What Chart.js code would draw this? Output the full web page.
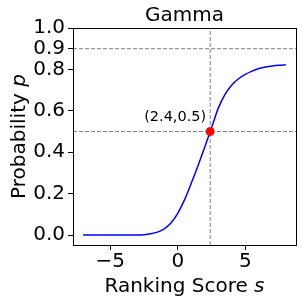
<!DOCTYPE html>
<html>
<head>
<meta charset="utf-8">
<script src="https://cdn.jsdelivr.net/npm/chart.js@4/dist/chart.umd.min.js"></script>
<style>
  html, body { margin: 0; padding: 0; background: #fff; }
</style>
</head>
<body>
<canvas id="gamma" width="303" height="305"></canvas>
<script>
// curve
const scores = [-7, -6, -5, -4, -3, -2.5, -2, -1.5, -1, -0.5, 0, 0.5, 1, 1.5, 2, 2.4, 2.7, 3, 3.5, 4, 4.5, 5, 5.5, 6, 6.5, 7, 7.5, 8];
const probs = [0, 0, 0, 0, 0.0005, 0.002, 0.006, 0.014, 0.03, 0.058, 0.105, 0.17, 0.25, 0.335, 0.425, 0.5, 0.557, 0.613, 0.68, 0.725, 0.755, 0.776, 0.792, 0.804, 0.812, 0.817, 0.82, 0.822];

const yTicks = [0, 0.2, 0.4, 0.6, 0.8, 0.9, 1.0];
const xTicks = [-5, 0, 5];
const xLimits = [-7.75, 8.75];
const yLimits = [-0.048, 1.0];

const refScore = 2.4;
const refProb = 0.5;
const refLevel = 0.9;

const FONT = 'DejaVu Sans';

const curve = scores.map((s, i) => ({ x: s, y: probs[i] }));

// draw "Probability " + italic "p" style labels centred on a point
function mixedText(ctx, plain, ital, size) {
  ctx.font = size + 'px "' + FONT + '"';
  const wa = ctx.measureText(plain).width;
  ctx.font = 'italic ' + size + 'px "' + FONT + '"';
  const wb = ctx.measureText(ital).width;
  const x0 = -(wa + wb) / 2;
  ctx.textAlign = 'left';
  ctx.font = size + 'px "' + FONT + '"';
  ctx.fillText(plain, x0, 0);
  ctx.font = 'italic ' + size + 'px "' + FONT + '"';
  ctx.fillText(ital, x0 + wa, 0);
}

// frame, title, axis titles and the point label
const extras = {
  id: 'extras',
  afterDraw(chart) {
    const ctx = chart.ctx;
    const a = chart.chartArea;
    const xs = chart.scales.x, ys = chart.scales.y;
    const cx = (a.left + a.right) / 2;
    ctx.save();
    ctx.strokeStyle = '#000';
    ctx.lineWidth = 1;
    ctx.strokeRect(Math.round(a.left) + 0.5, Math.round(a.top) + 0.5,
      Math.round(a.right - a.left), Math.round(a.bottom - a.top));

    ctx.fillStyle = '#000';
    ctx.textBaseline = 'middle';

    ctx.font = '20px "' + FONT + '"';
    ctx.textAlign = 'center';
    ctx.fillText('Gamma', cx, 16);

    ctx.translate(cx, 287);
    mixedText(ctx, 'Ranking Score ', 's', 20);
    ctx.setTransform(1, 0, 0, 1, 0, 0);

    ctx.translate(20, (a.top + a.bottom) / 2);
    ctx.rotate(-Math.PI / 2);
    mixedText(ctx, 'Probability ', 'p', 20);
    ctx.setTransform(1, 0, 0, 1, 0, 0);

    ctx.font = '14.5px "' + FONT + '"';
    ctx.textAlign = 'center';
    ctx.fillText('(' + refScore + ',' + refProb + ')',
      xs.getPixelForValue(refScore) - 35, ys.getPixelForValue(refProb) - 14);
    ctx.restore();
  }
};

const dashed = {
  showLine: true,
  borderColor: '#808080',
  borderWidth: 1,
  borderDash: [4, 2],
  pointRadius: 0,
  order: 3
};

new Chart(document.getElementById('gamma'), {
  type: 'scatter',
  data: {
    datasets: [
      {
        data: curve,
        showLine: true,
        borderColor: '#0000ff',
        borderWidth: 1.5,
        pointRadius: 0,
        cubicInterpolationMode: 'monotone',
        order: 2
      },
      Object.assign({ data: [{ x: xLimits[0], y: refLevel }, { x: xLimits[1], y: refLevel }] }, dashed),
      Object.assign({ data: [{ x: xLimits[0], y: refProb }, { x: xLimits[1], y: refProb }] }, dashed),
      Object.assign({ data: [{ x: refScore, y: yLimits[0] }, { x: refScore, y: yLimits[1] }] }, dashed),
      {
        data: [{ x: refScore, y: refProb }],
        pointRadius: 4,
        pointBackgroundColor: '#ff0000',
        pointBorderColor: '#ff0000',
        order: 0
      }
    ]
  },
  options: {
    responsive: false,
    animation: false,
    layout: { padding: { left: 0, right: 7, top: 28, bottom: 0 } },
    plugins: {
      legend: { display: false },
      tooltip: { enabled: false },
      title: { display: false }
    },
    scales: {
      x: {
        type: 'linear',
        min: xLimits[0],
        max: xLimits[1],
        afterBuildTicks: s => { s.ticks = xTicks.map(v => ({ value: v })); },
        afterFit: s => { s.height = 60; },
        grid: { display: true, drawOnChartArea: false, drawTicks: true, tickLength: 5, color: '#000' },
        border: { display: true, color: '#000' },
        ticks: {
          color: '#000',
          padding: 0,
          font: { family: FONT, size: 20 },
          callback: v => (v < 0 ? '\u2212' + Math.abs(v) : String(v))
        }
      },
      y: {
        type: 'linear',
        min: yLimits[0],
        max: yLimits[1],
        afterBuildTicks: s => { s.ticks = yTicks.map(v => ({ value: v })); },
        afterFit: s => { s.width = 73; },
        grid: { display: true, drawOnChartArea: false, drawTicks: true, tickLength: 5, color: '#000' },
        border: { display: true, color: '#000' },
        ticks: {
          color: '#000',
          padding: 3,
          autoSkip: false,
          font: { family: FONT, size: 20 },
          callback: v => v.toFixed(1)
        }
      }
    }
  },
  plugins: [extras]
});
</script>
</body>
</html>
